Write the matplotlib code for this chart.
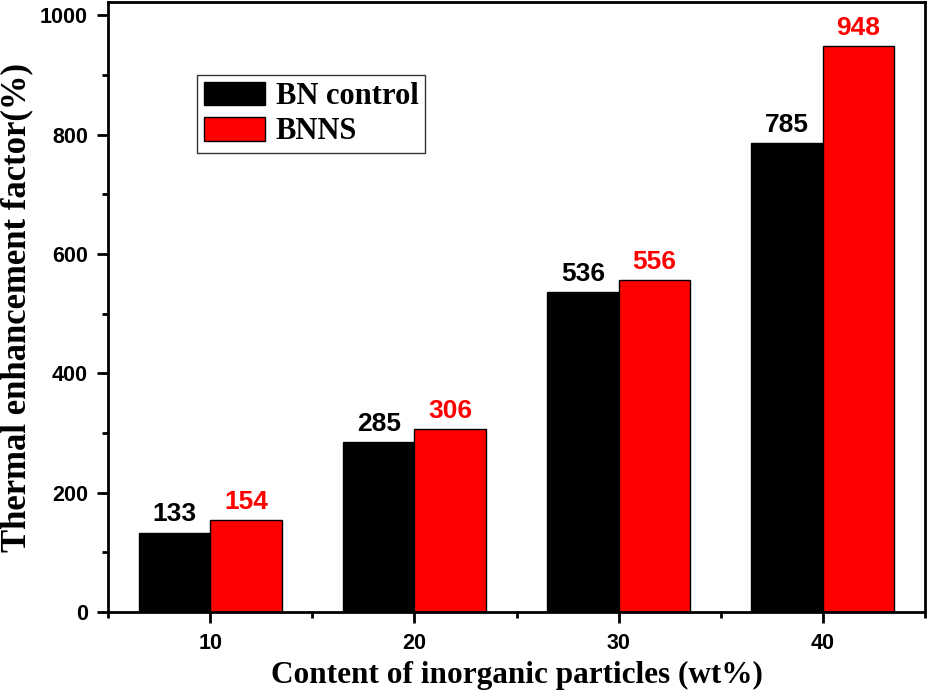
import matplotlib.pyplot as plt
from matplotlib.ticker import MultipleLocator

contents = [10, 20, 30, 40]
bn_control = [133, 285, 536, 785]
bnns = [154, 306, 556, 948]
series_names = ["BN control", "BNNS"]

fig = plt.figure(figsize=(9.3, 6.91), dpi=100)
ax = fig.add_axes([108 / 930, 1 - 612 / 691, 817 / 930, 610 / 691])

width = 3.5
left_x = [c - width / 2 for c in contents]
right_x = [c + width / 2 for c in contents]
b1 = ax.bar(left_x, bn_control, width, color="black", edgecolor="black", linewidth=1, label=series_names[0])
b2 = ax.bar(right_x, bnns, width, color="#ff0000", edgecolor="black", linewidth=1, label=series_names[1])

num_font = dict(family="Liberation Sans", fontweight="bold", fontsize=19)
ax.bar_label(b1, labels=[str(v) for v in bn_control], padding=4.5, color="black", **num_font)
ax.bar_label(b2, labels=[str(v) for v in bnns], padding=4.5, color="#ff0000", **num_font)

ax.set_xlim(5, 45)
ax.set_ylim(0, 1022)
ax.set_xticks(contents)
ax.xaxis.set_minor_locator(MultipleLocator(5))
ax.set_yticks(range(0, 1001, 200))
ax.yaxis.set_minor_locator(MultipleLocator(100))

for s in ax.spines.values():
    s.set_linewidth(2)
ax.tick_params(which="major", direction="out", length=8, width=2)
ax.tick_params(which="minor", direction="out", length=4, width=2)
ax.tick_params(axis="y", which="major", pad=6.5)
ax.tick_params(axis="x", which="major", pad=7)
ax.tick_params(axis="both", labelsize=15.5)
for lab in ax.get_xticklabels() + ax.get_yticklabels():
    lab.set_family("Liberation Sans")
    lab.set_fontweight("bold")

ax.set_xlabel("Content of inorganic particles (wt%)", labelpad=5,
              family="Liberation Serif", fontweight="bold", fontsize=22.5)
ax.set_ylabel("Thermal enhancement factor(%)", labelpad=5,
              family="Liberation Serif", fontweight="bold", fontsize=25)

leg = ax.legend(loc="upper left", bbox_to_anchor=((197 - 108) / 817, (612 - 75) / 610),
                borderaxespad=0, frameon=True, fancybox=False,
                prop=dict(family="Liberation Serif", weight="bold", size=22),
                handlelength=2.0, handleheight=0.8, borderpad=0.22, labelspacing=0.2,
                handletextpad=0.35)
leg.get_frame().set_edgecolor("black")
leg.get_frame().set_linewidth(1)

fig.savefig("out.png", dpi=100)
